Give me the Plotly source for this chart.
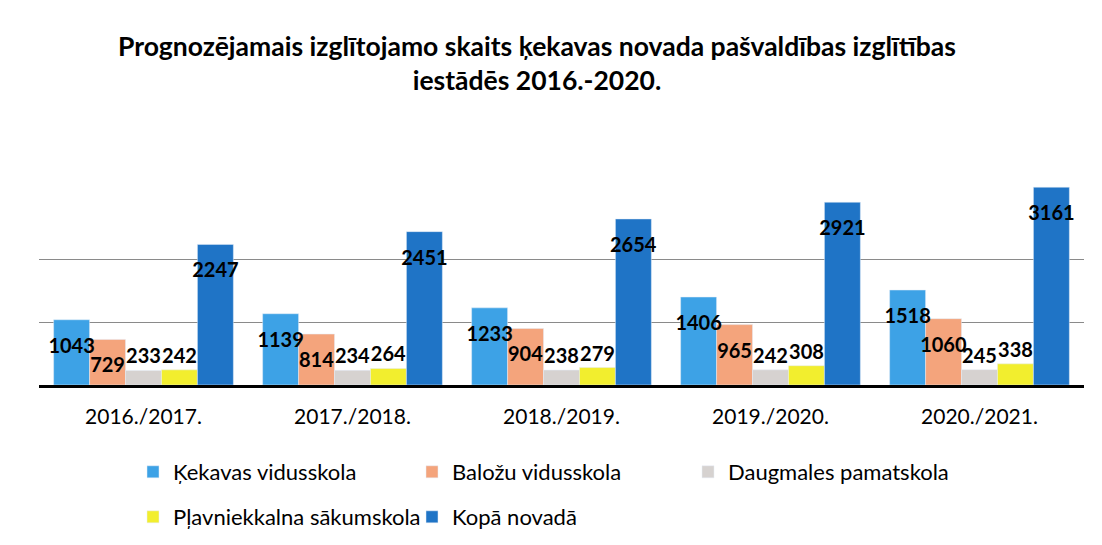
import plotly.graph_objects as go

categories = ["2016./2017.", "2017./2018.", "2018./2019.", "2019./2020.", "2020./2021."]
series_names = ["Ķekavas vidusskola", "Baložu vidusskola", "Daugmales pamatskola",
                "Pļavniekkalna sākumskola", "Kopā novadā"]
kekavas = [1043, 1139, 1233, 1406, 1518]
balozu = [729, 814, 904, 965, 1060]
daugmales = [233, 234, 238, 242, 245]
plavniekkalna = [242, 264, 279, 308, 338]
kopa = [2247, 2451, 2654, 2921, 3161]
values = [kekavas, balozu, daugmales, plavniekkalna, kopa]
colors = ["#3DA2E6", "#F4A47C", "#D6D2D0", "#F2EE2E", "#1F74C6"]
legend_ids = ["legend", "legend2", "legend3", "legend4", "legend5"]

# figure is drawn inside the page's 8px body margin
W, H = 1094, 537

# a tiny blank first line pushes the inside labels a little below the bar end
SPACER = "<span style='font-size:4px'>\u00a0</span><br>"


def label(v):
    return SPACER + str(v) if v > 500 else str(v)


fig = go.Figure()
# the bars
for i, (name, vals, col, lg) in enumerate(zip(series_names, values, colors, legend_ids)):
    fig.add_trace(go.Bar(
        x=categories, y=vals, name=name, marker_color=col,
        offsetgroup=str(i), legend=lg, hoverinfo="x+y+name",
    ))
# transparent copies that carry the data labels, drawn above every bar
for i, (name, vals) in enumerate(zip(series_names, values)):
    fig.add_trace(go.Bar(
        x=categories, y=vals, name=name, showlegend=False,
        marker=dict(color="rgba(0,0,0,0)", line=dict(width=0)),
        offsetgroup=str(i), hoverinfo="skip",
        text=[label(v) for v in vals],
        textposition=["inside" if v > 500 else "outside" for v in vals],
        insidetextanchor="end",
        textangle=0,
        constraintext="none",
        textfont=dict(family="Lato", size=20, color="black", weight="bold"),
        cliponaxis=False,
    ))

legend_style = dict(orientation="h", xref="container", yref="container",
                    xanchor="left", yanchor="top",
                    font=dict(family="Lato", size=22, color="black"),
                    bgcolor="rgba(0,0,0,0)")
legend_pos = [(125, 443), (404, 443), (680, 443), (125, 488), (404, 488)]
legend_layout = {}
for lg, (lx, ly) in zip(legend_ids, legend_pos):
    legend_layout[lg] = dict(legend_style, x=lx / W, y=1 - ly / H)

fig.update_layout(
    width=W, height=H,
    paper_bgcolor="white", plot_bgcolor="white",
    margin=dict(l=31, r=18, t=158, b=160),
    barmode="group", bargap=0.14, bargroupgap=0,
    title=dict(
        text="Prognozējamais izglītojamo skaits ķekavas novada pašvaldības izglītības<br>iestādēs 2016.-2020.",
        x=529 / W, xref="container", xanchor="center",
        y=1 - 48 / H, yref="container", yanchor="top",
        font=dict(family="Lato", size=26.5, color="black", weight="bold"),
    ),
    font=dict(family="Lato", color="black"),
    xaxis=dict(showline=True, linecolor="black", linewidth=3, ticks="",
               ticklabelstandoff=11,
               tickfont=dict(family="Lato", size=21, color="black")),
    yaxis=dict(range=[0, 3500], tickvals=[1000, 2000], showticklabels=False,
               showgrid=True, gridcolor="#8a8a8a", gridwidth=1, zeroline=False),
    showlegend=True,
    **legend_layout,
)

fig.write_html("out.html")
